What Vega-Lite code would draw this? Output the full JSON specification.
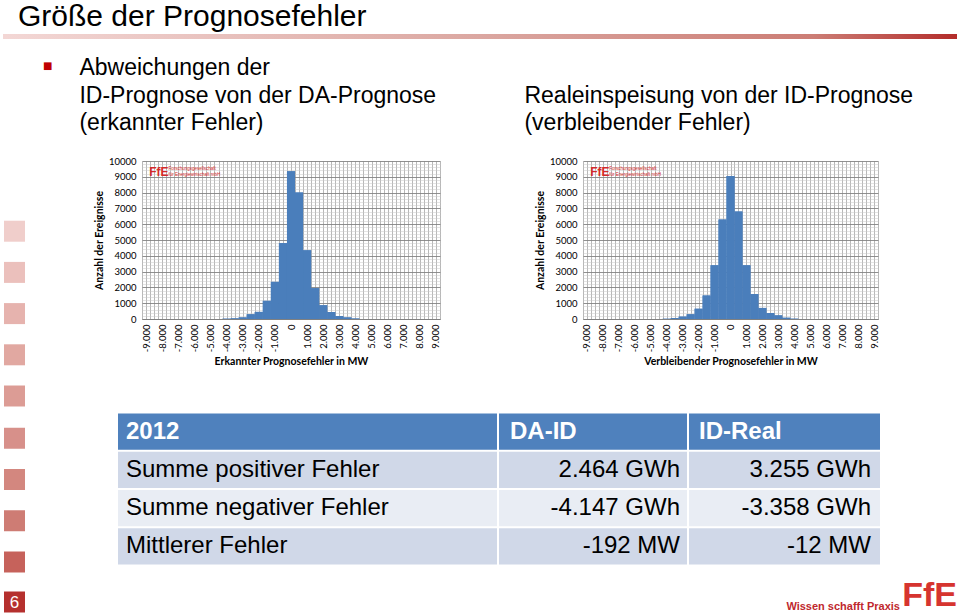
{
  "$schema": "https://vega.github.io/schema/vega-lite/v6.json",
  "background": "white",
  "padding": {"left": 3, "top": 2, "right": 0, "bottom": 0},
  "config": {
    "locale": {"number": {"decimal": ",", "thousands": ".", "grouping": [3], "currency": ["", " €"], "minus": "-"}},
    "view": {"stroke": null},
    "font": "Liberation Sans",
    "axis": {"labelFont": "Lato", "titleFont": "Lato", "labelColor": "#000", "titleColor": "#000"}
  },
  "datasets": {
    "hist": [
      {"chart": "DA-ID", "from": -4250, "to": -3750, "count": 20},
      {"chart": "DA-ID", "from": -3750, "to": -3250, "count": 40},
      {"chart": "DA-ID", "from": -3250, "to": -2750, "count": 100},
      {"chart": "DA-ID", "from": -2750, "to": -2250, "count": 300},
      {"chart": "DA-ID", "from": -2250, "to": -1750, "count": 450},
      {"chart": "DA-ID", "from": -1750, "to": -1250, "count": 1150},
      {"chart": "DA-ID", "from": -1250, "to": -750, "count": 2350},
      {"chart": "DA-ID", "from": -750, "to": -250, "count": 4800},
      {"chart": "DA-ID", "from": -250, "to": 250, "count": 9350},
      {"chart": "DA-ID", "from": 250, "to": 750, "count": 8000},
      {"chart": "DA-ID", "from": 750, "to": 1250, "count": 4350},
      {"chart": "DA-ID", "from": 1250, "to": 1750, "count": 1950},
      {"chart": "DA-ID", "from": 1750, "to": 2250, "count": 870},
      {"chart": "DA-ID", "from": 2250, "to": 2750, "count": 440},
      {"chart": "DA-ID", "from": 2750, "to": 3250, "count": 190},
      {"chart": "DA-ID", "from": 3250, "to": 3750, "count": 100},
      {"chart": "DA-ID", "from": 3750, "to": 4250, "count": 30},
      {"chart": "ID-Real", "from": -4250, "to": -3750, "count": 15},
      {"chart": "ID-Real", "from": -3750, "to": -3250, "count": 60},
      {"chart": "ID-Real", "from": -3250, "to": -2750, "count": 150},
      {"chart": "ID-Real", "from": -2750, "to": -2250, "count": 300},
      {"chart": "ID-Real", "from": -2250, "to": -1750, "count": 650},
      {"chart": "ID-Real", "from": -1750, "to": -1250, "count": 1480},
      {"chart": "ID-Real", "from": -1250, "to": -750, "count": 3400},
      {"chart": "ID-Real", "from": -750, "to": -250, "count": 6300},
      {"chart": "ID-Real", "from": -250, "to": 250, "count": 9050},
      {"chart": "ID-Real", "from": 250, "to": 750, "count": 6800},
      {"chart": "ID-Real", "from": 750, "to": 1250, "count": 3400},
      {"chart": "ID-Real", "from": 1250, "to": 1750, "count": 1580},
      {"chart": "ID-Real", "from": 1750, "to": 2250, "count": 700},
      {"chart": "ID-Real", "from": 2250, "to": 2750, "count": 380},
      {"chart": "ID-Real", "from": 2750, "to": 3250, "count": 230},
      {"chart": "ID-Real", "from": 3250, "to": 3750, "count": 80},
      {"chart": "ID-Real", "from": 3750, "to": 4250, "count": 20}
    ],
    "table": [
      {"row": "head", "c1": "2012", "c2": "DA-ID", "c3": "ID-Real"},
      {"row": "pos", "c1": "Summe positiver Fehler", "c2": "2.464 GWh", "c3": "3.255 GWh"},
      {"row": "neg", "c1": "Summe negativer Fehler", "c2": "-4.147 GWh", "c3": "-3.358 GWh"},
      {"row": "mean", "c1": "Mittlerer Fehler", "c2": "-192 MW", "c3": "-12 MW"}
    ],
    "deco": [
      {"slot": "1"}, {"slot": "2"}, {"slot": "3"}, {"slot": "4"}, {"slot": "5"},
      {"slot": "6"}, {"slot": "7"}, {"slot": "8"}, {"slot": "9"}, {"slot": "10", "page": "6"}
    ],
    "logo": [
      {"logo": "FfE", "sub": ["Forschungsgesellschaft", "für Energiewirtschaft mbH"], "claim": "Wissen schafft Praxis"}
    ]
  },
  "spacing": 18,
  "resolve": {"scale": {"color": "independent", "fill": "independent"}},
  "vconcat": [
    {
      "width": 954,
      "height": 5,
      "title": {"text": "Größe der Prognosefehler", "anchor": "start", "font": "Liberation Sans", "fontSize": 30, "fontWeight": "normal", "color": "#000", "offset": 2, "dx": 15},
      "data": {"values": [{"part": "bar"}]},
      "mark": {"type": "rect", "color": {"gradient": "linear", "x1": 0, "x2": 1, "y1": 0, "y2": 0, "stops": [{"offset": 0, "color": "#f3d7d5"}, {"offset": 0.5, "color": "#dba7a1"}, {"offset": 0.85, "color": "#cc7d75"}, {"offset": 1, "color": "#b32c2a"}]}},
      "encoding": {"x": {"value": 0}, "x2": {"value": "width"}, "y": {"value": 0}, "y2": {"value": "height"}}
    },
    {
      "spacing": 6.5,
      "resolve": {"scale": {"color": "independent", "fill": "independent"}},
      "vconcat": [
        {
          "spacing": 26,
          "resolve": {"scale": {"color": "independent", "fill": "independent"}},
          "hconcat": [
            {
              "width": 23,
              "height": 235,
              "title": {"text": "■", "anchor": "start", "frame": "group", "font": "DejaVu Sans", "fontSize": 10, "fontWeight": "normal", "color": "#c00000", "dx": 40, "offset": 90},
              "data": {"name": "deco"},
              "transform": [{"filter": "toNumber(datum.slot) <= 5"}],
              "mark": {"type": "square", "size": 441, "opacity": 1, "filled": true},
              "encoding": {
                "y": {"field": "slot", "type": "nominal", "scale": {"type": "point", "domain": ["1", "2", "3", "4", "5"], "padding": 0.852, "align": 1}, "axis": null},
                "fill": {"field": "slot", "type": "nominal", "scale": {"domain": ["1", "2", "3", "4", "5"], "range": ["#f0cecb", "#ebc0bc", "#e6b3ae", "#e1a8a1", "#dc9c95"]}, "legend": null}
              }
            },
            {
              "spacing": 83,
              "hconcat": [
                {
                  "width": 298,
                  "height": 158,
                  "title": {"text": ["Abweichungen der", "ID-Prognose von der DA-Prognose", "(erkannter Fehler)"], "anchor": "start", "font": "Liberation Sans", "fontSize": 23, "fontWeight": "normal", "lineHeight": 27.5, "color": "#000", "offset": 21, "dx": -15},
                  "layer": [
                    {
                      "data": {"name": "hist"},
                      "transform": [{"filter": "datum.chart === 'DA-ID'"}],
                      "mark": {"type": "bar", "color": "#4a7ebb"},
                      "encoding": {
                        "x": {"field": "from", "type": "quantitative", "scale": {"domain": [-9250, 9250], "nice": false, "zero": false},
                          "axis": {"orient": "bottom", "values": [-9250,-9000,-8750,-8500,-8250,-8000,-7750,-7500,-7250,-7000,-6750,-6500,-6250,-6000,-5750,-5500,-5250,-5000,-4750,-4500,-4250,-4000,-3750,-3500,-3250,-3000,-2750,-2500,-2250,-2000,-1750,-1500,-1250,-1000,-750,-500,-250,0,250,500,750,1000,1250,1500,1750,2000,2250,2500,2750,3000,3250,3500,3750,4000,4250,4500,4750,5000,5250,5500,5750,6000,6250,6500,6750,7000,7250,7500,7750,8000,8250,8500,8750,9000,9250], "grid": true, "gridColor": "#999999", "gridWidth": 0.7, "labels": false, "ticks": false, "domain": false, "title": null}},
                        "x2": {"field": "to"},
                        "y": {"field": "count", "type": "quantitative", "scale": {"domain": [0, 10000], "nice": false},
                          "axis": {"orient": "left", "tickCount": 50, "grid": true, "gridColor": "#c8c8c8", "gridWidth": 0.5, "labels": false, "ticks": false, "domain": false, "title": null}},
                        "y2": {"datum": 0}
                      }
                    },
                    {
                      "data": {"name": "hist"},
                      "transform": [{"filter": "datum.chart === 'DA-ID'"}],
                      "mark": {"type": "bar", "color": "#4a7ebb"},
                      "encoding": {
                        "x": {"field": "from", "type": "quantitative",
                          "axis": {"orient": "bottom", "values": [-9000,-8000,-7000,-6000,-5000,-4000,-3000,-2000,-1000,0,1000,2000,3000,4000,5000,6000,7000,8000,9000], "format": ",d", "labelAngle": -90, "labelFontSize": 9.5, "labelPadding": 5, "grid": false, "ticks": false, "domain": true, "domainColor": "#808080", "title": "Erkannter Prognosefehler in MW", "titleFontSize": 10.5, "titleFontWeight": "bold", "titlePadding": 5}},
                        "x2": {"field": "to"},
                        "y": {"field": "count", "type": "quantitative",
                          "axis": {"orient": "left", "values": [0,1000,2000,3000,4000,5000,6000,7000,8000,9000,10000], "format": "d", "grid": true, "gridColor": "#7a7a7a", "gridWidth": 0.8, "ticks": false, "domain": false, "labelFontSize": 9.5, "labelPadding": 6, "title": "Anzahl der Ereignisse", "titleFontSize": 10.5, "titleFontWeight": "bold", "titlePadding": 4}},
                        "y2": {"datum": 0}
                      }
                    },
                    {
                      "data": {"name": "logo"},
                      "mark": {"type": "text", "align": "left", "baseline": "middle", "fontSize": 12, "fontWeight": "bold", "color": "#d42a2a", "font": "Liberation Sans"},
                      "encoding": {"x": {"datum": -8800, "type": "quantitative", "axis": null}, "y": {"datum": 9300, "type": "quantitative", "axis": null}, "text": {"field": "logo"}}
                    },
                    {
                      "data": {"name": "logo"},
                      "mark": {"type": "text", "align": "left", "baseline": "middle", "fontSize": 4.5, "lineHeight": 6, "color": "#d42a2a", "font": "Liberation Sans"},
                      "encoding": {"x": {"datum": -7600, "type": "quantitative", "axis": null}, "y": {"datum": 9480, "type": "quantitative", "axis": null}, "text": {"field": "sub"}}
                    }
                  ],
                  "resolve": {"axis": {"x": "independent", "y": "independent"}}
                },
                {
                  "width": 295,
                  "height": 158,
                  "title": {"text": ["Realeinspeisung von der ID-Prognose", "(verbleibender Fehler)"], "anchor": "start", "font": "Liberation Sans", "fontSize": 23, "fontWeight": "normal", "lineHeight": 27.5, "color": "#000", "offset": 21, "dx": -11},
                  "layer": [
                    {
                      "data": {"name": "hist"},
                      "transform": [{"filter": "datum.chart === 'ID-Real'"}],
                      "mark": {"type": "bar", "color": "#4a7ebb"},
                      "encoding": {
                        "x": {"field": "from", "type": "quantitative", "scale": {"domain": [-9250, 9250], "nice": false, "zero": false},
                          "axis": {"orient": "bottom", "values": [-9250,-9000,-8750,-8500,-8250,-8000,-7750,-7500,-7250,-7000,-6750,-6500,-6250,-6000,-5750,-5500,-5250,-5000,-4750,-4500,-4250,-4000,-3750,-3500,-3250,-3000,-2750,-2500,-2250,-2000,-1750,-1500,-1250,-1000,-750,-500,-250,0,250,500,750,1000,1250,1500,1750,2000,2250,2500,2750,3000,3250,3500,3750,4000,4250,4500,4750,5000,5250,5500,5750,6000,6250,6500,6750,7000,7250,7500,7750,8000,8250,8500,8750,9000,9250], "grid": true, "gridColor": "#999999", "gridWidth": 0.7, "labels": false, "ticks": false, "domain": false, "title": null}},
                        "x2": {"field": "to"},
                        "y": {"field": "count", "type": "quantitative", "scale": {"domain": [0, 10000], "nice": false},
                          "axis": {"orient": "left", "tickCount": 50, "grid": true, "gridColor": "#c8c8c8", "gridWidth": 0.5, "labels": false, "ticks": false, "domain": false, "title": null}},
                        "y2": {"datum": 0}
                      }
                    },
                    {
                      "data": {"name": "hist"},
                      "transform": [{"filter": "datum.chart === 'ID-Real'"}],
                      "mark": {"type": "bar", "color": "#4a7ebb"},
                      "encoding": {
                        "x": {"field": "from", "type": "quantitative",
                          "axis": {"orient": "bottom", "values": [-9000,-8000,-7000,-6000,-5000,-4000,-3000,-2000,-1000,0,1000,2000,3000,4000,5000,6000,7000,8000,9000], "format": ",d", "labelAngle": -90, "labelFontSize": 9.5, "labelPadding": 5, "grid": false, "ticks": false, "domain": true, "domainColor": "#808080", "title": "Verbleibender Prognosefehler in MW", "titleFontSize": 10.5, "titleFontWeight": "bold", "titlePadding": 5}},
                        "x2": {"field": "to"},
                        "y": {"field": "count", "type": "quantitative",
                          "axis": {"orient": "left", "values": [0,1000,2000,3000,4000,5000,6000,7000,8000,9000,10000], "format": "d", "grid": true, "gridColor": "#7a7a7a", "gridWidth": 0.8, "ticks": false, "domain": false, "labelFontSize": 9.5, "labelPadding": 6, "title": "Anzahl der Ereignisse", "titleFontSize": 10.5, "titleFontWeight": "bold", "titlePadding": 4}},
                        "y2": {"datum": 0}
                      }
                    },
                    {
                      "data": {"name": "logo"},
                      "mark": {"type": "text", "align": "left", "baseline": "middle", "fontSize": 12, "fontWeight": "bold", "color": "#d42a2a", "font": "Liberation Sans"},
                      "encoding": {"x": {"datum": -8800, "type": "quantitative", "axis": null}, "y": {"datum": 9300, "type": "quantitative", "axis": null}, "text": {"field": "logo"}}
                    },
                    {
                      "data": {"name": "logo"},
                      "mark": {"type": "text", "align": "left", "baseline": "middle", "fontSize": 4.5, "lineHeight": 6, "color": "#d42a2a", "font": "Liberation Sans"},
                      "encoding": {"x": {"datum": -7600, "type": "quantitative", "axis": null}, "y": {"datum": 9480, "type": "quantitative", "axis": null}, "text": {"field": "sub"}}
                    }
                  ],
                  "resolve": {"axis": {"x": "independent", "y": "independent"}}
                }
              ]
            }
          ]
        },
        {
          "spacing": 6,
          "resolve": {"scale": {"color": "independent", "fill": "independent"}},
          "vconcat": [
            {
              "spacing": 92,
              "resolve": {"scale": {"color": "independent", "fill": "independent"}},
              "hconcat": [
                {
                  "width": 23,
                  "height": 148.5,
                  "data": {"name": "deco"},
                  "transform": [{"filter": "toNumber(datum.slot) >= 6 && toNumber(datum.slot) <= 9"}],
                  "mark": {"type": "square", "size": 441, "opacity": 1, "filled": true},
                  "encoding": {
                    "y": {"field": "slot", "type": "nominal", "scale": {"type": "point", "domain": ["6", "7", "8", "9"], "padding": 0.3, "align": 1}, "axis": null},
                    "fill": {"field": "slot", "type": "nominal", "scale": {"domain": ["6", "7", "8", "9"], "range": ["#d7908a", "#d3877f", "#ce7c74", "#c6625b"]}, "legend": null}
                  }
                },
                {
                  "spacing": 2,
                  "hconcat": [
                    {
                      "width": 379,
                      "height": 151,
                      "data": {"name": "table"},
                      "encoding": {"y": {"field": "row", "type": "nominal", "scale": {"domain": ["head", "pos", "neg", "mean"], "paddingInner": 0.05, "paddingOuter": 0}, "axis": null}},
                      "layer": [
                        {"mark": {"type": "rect"}, "encoding": {"x": {"value": 0}, "x2": {"value": "width"}, "color": {"field": "row", "type": "nominal", "scale": {"domain": ["head", "pos", "neg", "mean"], "range": ["#4f81bd", "#d0d8e8", "#e9edf4", "#d0d8e8"]}, "legend": null}}},
                        {"transform": [{"filter": "datum.row === 'head'"}], "mark": {"type": "text", "align": "left", "dx": 8, "fontSize": 24, "fontWeight": "bold", "color": "white", "font": "Liberation Sans"}, "encoding": {"x": {"value": 0}, "text": {"field": "c1"}}},
                        {"transform": [{"filter": "datum.row !== 'head'"}], "mark": {"type": "text", "align": "left", "dx": 8, "fontSize": 24, "color": "black", "font": "Liberation Sans"}, "encoding": {"x": {"value": 0}, "text": {"field": "c1"}}}
                      ]
                    },
                    {
                      "width": 188,
                      "height": 151,
                      "data": {"name": "table"},
                      "encoding": {"y": {"field": "row", "type": "nominal", "scale": {"domain": ["head", "pos", "neg", "mean"], "paddingInner": 0.05, "paddingOuter": 0}, "axis": null}},
                      "layer": [
                        {"mark": {"type": "rect"}, "encoding": {"x": {"value": 0}, "x2": {"value": "width"}, "color": {"field": "row", "type": "nominal", "scale": {"domain": ["head", "pos", "neg", "mean"], "range": ["#4f81bd", "#d0d8e8", "#e9edf4", "#d0d8e8"]}, "legend": null}}},
                        {"transform": [{"filter": "datum.row === 'head'"}], "mark": {"type": "text", "align": "left", "dx": 11, "fontSize": 24, "fontWeight": "bold", "color": "white", "font": "Liberation Sans"}, "encoding": {"x": {"value": 0}, "text": {"field": "c2"}}},
                        {"transform": [{"filter": "datum.row !== 'head'"}], "mark": {"type": "text", "align": "right", "dx": -7, "fontSize": 24, "color": "black", "font": "Liberation Sans"}, "encoding": {"x": {"value": "width"}, "text": {"field": "c2"}}}
                      ]
                    },
                    {
                      "width": 191,
                      "height": 151,
                      "data": {"name": "table"},
                      "encoding": {"y": {"field": "row", "type": "nominal", "scale": {"domain": ["head", "pos", "neg", "mean"], "paddingInner": 0.05, "paddingOuter": 0}, "axis": null}},
                      "layer": [
                        {"mark": {"type": "rect"}, "encoding": {"x": {"value": 0}, "x2": {"value": "width"}, "color": {"field": "row", "type": "nominal", "scale": {"domain": ["head", "pos", "neg", "mean"], "range": ["#4f81bd", "#d0d8e8", "#e9edf4", "#d0d8e8"]}, "legend": null}}},
                        {"transform": [{"filter": "datum.row === 'head'"}], "mark": {"type": "text", "align": "left", "dx": 10, "fontSize": 24, "fontWeight": "bold", "color": "white", "font": "Liberation Sans"}, "encoding": {"x": {"value": 0}, "text": {"field": "c3"}}},
                        {"transform": [{"filter": "datum.row !== 'head'"}], "mark": {"type": "text", "align": "right", "dx": -9, "fontSize": 24, "color": "black", "font": "Liberation Sans"}, "encoding": {"x": {"value": "width"}, "text": {"field": "c3"}}}
                      ]
                    }
                  ]
                }
              ]
            },
            {
              "spacing": 54,
              "hconcat": [
                {
                  "width": 23,
                  "height": 21,
                  "data": {"name": "deco"},
                  "transform": [{"filter": "datum.slot === '10'"}],
                  "layer": [
                    {"mark": {"type": "square", "size": 441, "opacity": 1, "filled": true, "color": "#b5302e"}},
                    {"mark": {"type": "text", "color": "white", "fontSize": 17, "font": "Liberation Sans", "dy": 1}, "encoding": {"text": {"field": "page"}}}
                  ]
                },
                {
                  "width": 877,
                  "height": 21,
                  "data": {"name": "logo"},
                  "layer": [
                    {"mark": {"type": "text", "align": "right", "baseline": "bottom", "dx": -57, "dy": -1, "fontSize": 11, "fontWeight": "bold", "color": "#c0282d", "font": "Liberation Sans"}, "encoding": {"x": {"value": "width"}, "y": {"value": "height"}, "text": {"field": "claim"}}},
                    {"mark": {"type": "text", "align": "right", "baseline": "bottom", "fontSize": 34, "fontWeight": "bold", "color": "#d6342f", "font": "Liberation Sans"}, "encoding": {"x": {"value": "width"}, "y": {"value": "height"}, "text": {"field": "logo"}}}
                  ]
                }
              ]
            }
          ]
        }
      ]
    }
  ]
}
